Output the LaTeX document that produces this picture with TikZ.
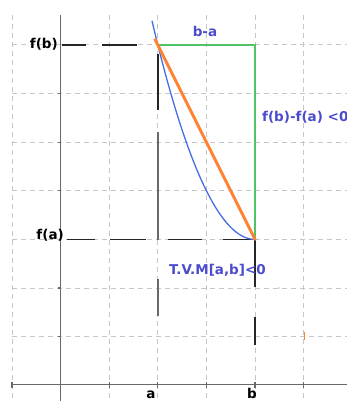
\documentclass[tikz,border=0pt]{standalone}
\usepackage{fontspec}
\setmainfont{DejaVu Sans}
\definecolor{txtblue}{RGB}{75,75,205}
\definecolor{curveblue}{RGB}{70,110,230}
\definecolor{grn}{RGB}{80,195,100}
\definecolor{org}{RGB}{255,130,50}
\definecolor{axgray}{RGB}{105,105,105}
\tikzset{
  gridline/.style={draw=gray!45, line width=1pt, dash pattern=on 5pt off 4pt},
  axisline/.style={draw=axgray, line width=1.7pt},
  blackdash/.style={draw=black!85, line width=1.5pt},
  lbl/.style={inner sep=0pt, font=\fontsize{13.5}{15}\selectfont\bfseries},
}
\begin{document}
\begin{tikzpicture}[x=1pt,y=-1pt]
\useasboundingbox (0,0) rectangle (347,401);
\fill[white] (0,0) rectangle (347,401);
% grid
\foreach \gx in {12,109.2,157.8,206.4,255,303.6}
  \draw[gridline] (\gx,15) -- (\gx,401);
\foreach \gy in {45,93.6,142.2,190.8,239.4,288,336.6}
  \draw[gridline] (12,\gy) -- (347,\gy);
% axes
\draw[axisline] (60.6,15) -- (60.6,401);
\draw[axisline] (12,384.5) -- (347,384.5);
\foreach \gx in {12,109.2,157.8,206.4,255,303.6}
  \draw[axgray, line width=1.2pt] (\gx,381.5) -- (\gx,388);
\foreach \gy in {93.6,142.2,190.8,288,336.6}
  \draw[axgray, line width=1.2pt] (57.6,\gy) -- (60.6,\gy);
% key points
\coordinate (P) at (157.8,45);
\coordinate (Q) at (255,239.4);
\coordinate (R) at (255,45);
% black dashes
\draw[blackdash] (62,45) -- (86,45);
\draw[blackdash] (102,45) -- (137,45);
\draw[blackdash] (67,239.4) -- (95,239.4);
\draw[blackdash] (110,239.4) -- (146,239.4);
\draw[blackdash] (168,239.4) -- (202,239.4);
\draw[blackdash] (223,239.4) -- (Q);
\draw[blackdash] (157.8,54) -- (157.8,110);
\draw[axgray, line width=1.5pt] (157.8,132) -- (157.8,240);
\draw[axgray, line width=1.5pt] (157.8,279) -- (157.8,316);
\draw[blackdash] (Q) -- (255,287);
\draw[blackdash] (255,317) -- (255,345);
% green
\draw[grn, line width=1.3pt] (P) -- (R) -- (Q);
% blue curve
\draw[curveblue, line width=1.3pt] plot[domain=152:255, samples=60, smooth] (\x, {239.4-0.0206*(255-\x)*(255-\x)});
% orange secant
\draw[org, line width=3pt, shorten <=-7pt] (P) -- (Q);
\fill[org] (255,239.4) circle (1.5pt);
% small orange marks
\fill[org] (303.6,332) rectangle (304.8,340);
\fill[org!60] (279,288) circle (0.9pt);
% labels
\node[lbl, txtblue] (ba) at (205,31) {b-a};
\node[lbl, txtblue, anchor=west] (diff) at (262,117) {f(b)-f(a) <0};
\node[lbl, txtblue, anchor=west] (tvm) at (169,270) {T.V.M[a,b]<0};
\node[lbl, anchor=east] (fb) at (58,44) {f(b)};
\node[lbl, anchor=east] (fa) at (64,235) {f(a)};
\node[lbl, anchor=base] (la) at (151,398) {a};
\node[lbl, anchor=base] (lb) at (252,398) {b};
\end{tikzpicture}
\end{document}
